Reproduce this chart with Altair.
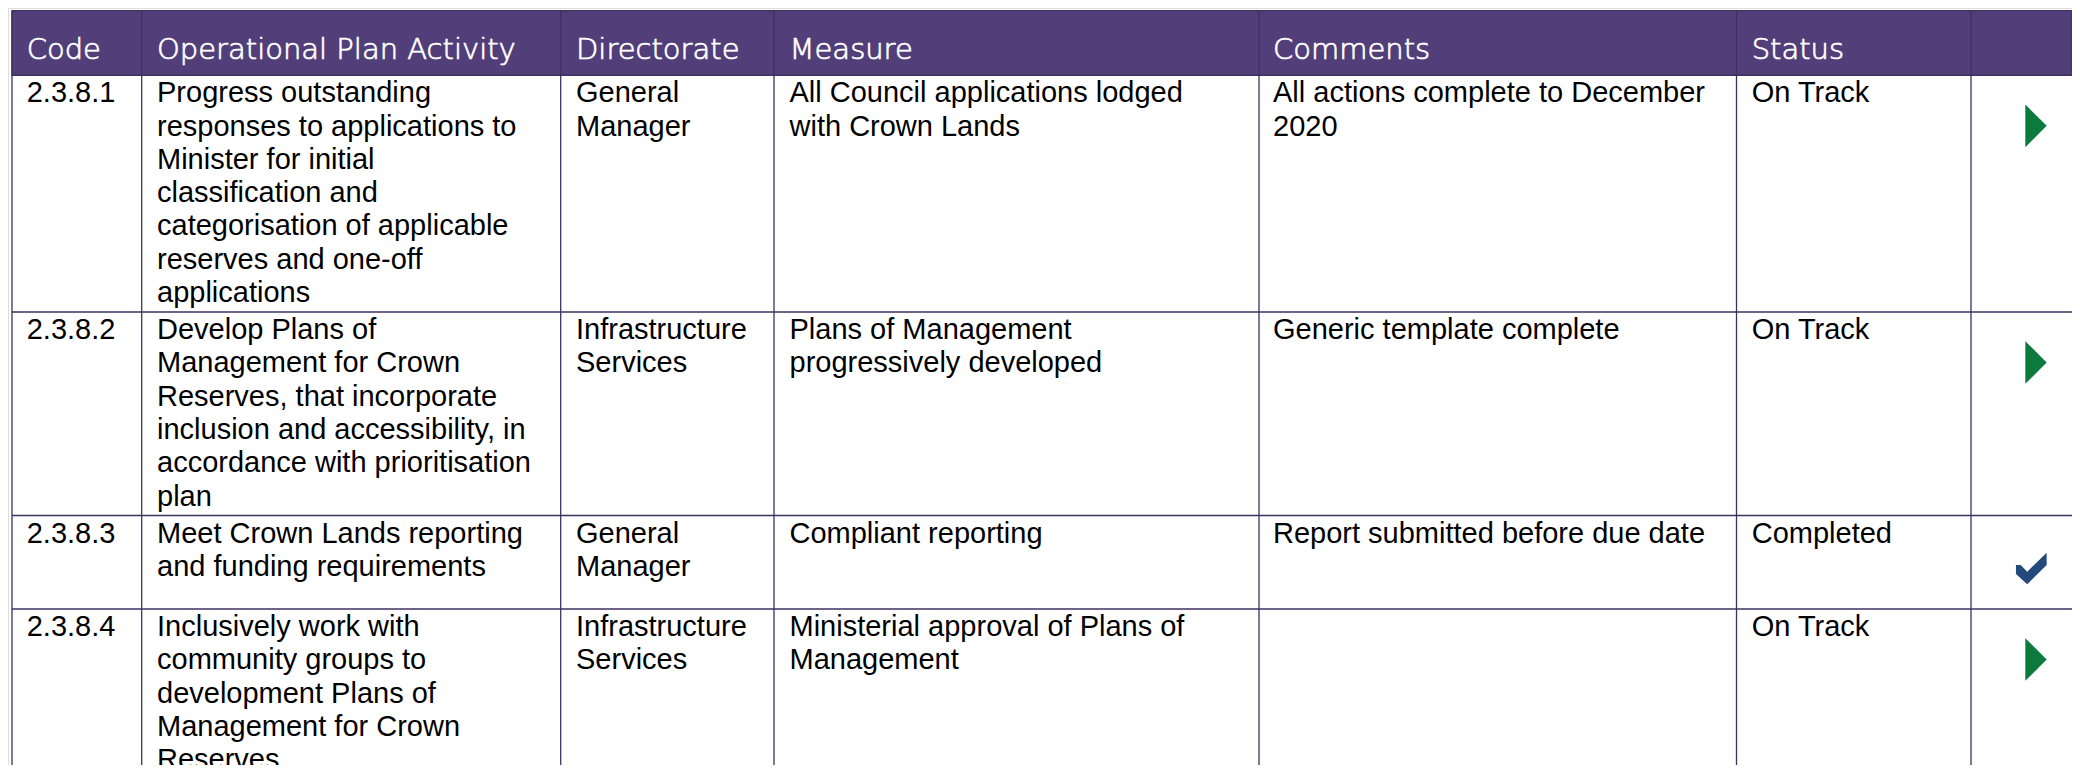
import altair as alt
import pandas as pd

# ---------------- data ----------------
headers = ["Code", "Operational Plan Activity", "Directorate", "Measure", "Comments", "Status"]
codes = ["2.3.8.1", "2.3.8.2", "2.3.8.3", "2.3.8.4"]
activities = [
    "Progress outstanding\nresponses to applications to\nMinister for initial\nclassification and\ncategorisation of applicable\nreserves and one-off\napplications",
    "Develop  Plans of\nManagement for Crown\nReserves, that incorporate\ninclusion and accessibility, in\naccordance with prioritisation\nplan",
    "Meet Crown Lands reporting\nand funding requirements",
    "Inclusively work with\ncommunity groups to\ndevelopment Plans of\nManagement for Crown\nReserves",
]
directorates = ["General\nManager", "Infrastructure\nServices", "General\nManager", "Infrastructure\nServices"]
measures = [
    "All Council applications lodged\nwith Crown Lands",
    "Plans of Management\nprogressively developed",
    "Compliant reporting",
    "Ministerial approval of Plans of\nManagement",
]
comments = [
    "All actions complete to December\n2020",
    "Generic template complete",
    "Report submitted before due date",
    "",
]
statuses = ["On Track", "On Track", "Completed", "On Track"]
icons = ["track", "track", "done", "track"]

# ---------------- layout (pixels of the plot area) ----------------
W, H = 2064, 757
col_edges = [4, 133.7, 552.7, 766, 1251, 1728.5, 1963]
text_x = [18.7, 149, 568, 781.5, 1265, 1743.7]
row_edges = [2.7, 67.3, 304, 507.5, 601]
header_baseline = 50.8
first_line = 27
line_h = 33.3
icon_x = {"track": 2028, "done": 2023.3}
icon_dy = {"track": 50.5, "done": 53}

PURPLE = "#523F7A"
LINE = "#3E3160"

xs = alt.Scale(domain=[0, W], nice=False, zero=False)
ys = alt.Scale(domain=[0, H], nice=False, zero=False, reverse=True)

# header band
hdr = pd.DataFrame([{"x": col_edges[0], "x2": W, "y": row_edges[0], "y2": row_edges[1]}])
hdr_layer = alt.Chart(hdr).mark_rect(fill=PURPLE, stroke=LINE, strokeWidth=1.2).encode(
    x=alt.X("x:Q", scale=xs, axis=None), x2="x2:Q",
    y=alt.Y("y:Q", scale=ys, axis=None), y2="y2:Q",
)

# grid lines
vlines = pd.DataFrame([{"x": cx, "y": row_edges[0], "y2": H} for cx in col_edges])
v_layer = alt.Chart(vlines).mark_rule(color=LINE, strokeWidth=1.3).encode(
    x=alt.X("x:Q", scale=xs, axis=None),
    y=alt.Y("y:Q", scale=ys, axis=None), y2="y2:Q",
)
hlines = pd.DataFrame([{"y": ry, "x": col_edges[0], "x2": W} for ry in row_edges[1:]])
h_layer = alt.Chart(hlines).mark_rule(color=LINE, strokeWidth=1.3).encode(
    y=alt.Y("y:Q", scale=ys, axis=None),
    x=alt.X("x:Q", scale=xs, axis=None), x2="x2:Q",
)

# header texts
htext = pd.DataFrame([{"x": text_x[i], "y": header_baseline, "t": h} for i, h in enumerate(headers)])
htext_layer = alt.Chart(htext).mark_text(
    align="left", baseline="alphabetic", font="DejaVu Sans", fontSize=29, fontWeight=300,
    color="white", stroke="white", strokeWidth=0.7
).encode(
    x=alt.X("x:Q", scale=xs, axis=None), y=alt.Y("y:Q", scale=ys, axis=None), text="t:N"
)

# body texts
cells = []
cols = [codes, activities, directorates, measures, comments, statuses]
for r in range(len(codes)):
    for c, col in enumerate(cols):
        if col[r]:
            cells.append({"x": text_x[c], "y": row_edges[r + 1] + first_line, "t": col[r]})
body = pd.DataFrame(cells)
body_layer = alt.Chart(body).mark_text(
    align="left", baseline="alphabetic", font="Liberation Sans, Arial", fontSize=29,
    lineBreak="\n", lineHeight=line_h, color="black"
).encode(
    x=alt.X("x:Q", scale=xs, axis=None), y=alt.Y("y:Q", scale=ys, axis=None), text="t:N"
)

# status icons
tri = pd.DataFrame([
    {"x": icon_x[k], "y": row_edges[r + 1] + icon_dy[k]} for r, k in enumerate(icons) if k == "track"
])
chk = pd.DataFrame([
    {"x": icon_x[k], "y": row_edges[r + 1] + icon_dy[k]} for r, k in enumerate(icons) if k == "done"
])
tri_layer = alt.Chart(tri).mark_point(
    shape="M -0.5 -1 L 0.5 0 L -0.5 1 Z", filled=True, fill="#0B7A3C", stroke=None,
    size=1823, opacity=1
).encode(x=alt.X("x:Q", scale=xs, axis=None), y=alt.Y("y:Q", scale=ys, axis=None))
chk_layer = alt.Chart(chk).mark_point(
    shape="M -0.98 -0.22 L -0.98 0.35 L -0.26 1.01 L 0.98 -0.22 L 0.98 -1.01 L -0.26 0.2 L -0.68 -0.22 Z",
    filled=True, fill="#244A7C", stroke=None, size=981, opacity=1
).encode(x=alt.X("x:Q", scale=xs, axis=None), y=alt.Y("y:Q", scale=ys, axis=None))

chart = alt.layer(hdr_layer, v_layer, h_layer, htext_layer, body_layer, tri_layer, chk_layer).properties(
    width=W, height=H, padding=0,
    autosize=alt.AutoSizeParams(type="none"),
).configure_view(stroke=None).configure(background="white")

chart.save("out.html", embed_options={"renderer": "svg", "actions": False})
